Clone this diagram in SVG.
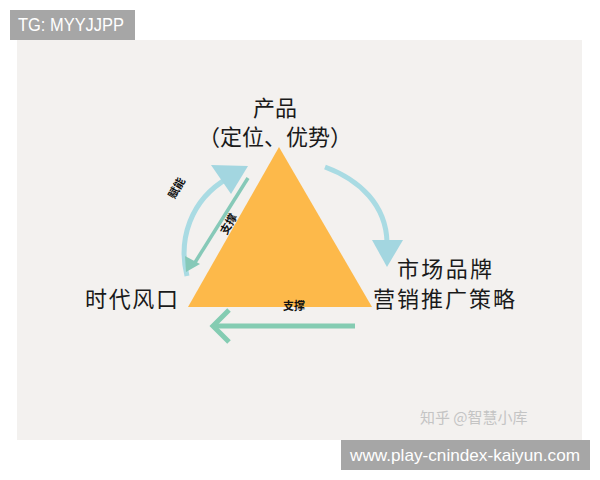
<svg xmlns="http://www.w3.org/2000/svg" width="600" height="480" viewBox="0 0 600 480">
<style>
.lbl{font-family:"Noto Sans CJK SC","Liberation Sans",sans-serif;font-size:22px;fill:#1a1a1a}
.cal{font-family:"Noto Sans CJK SC",serif;font-size:11px;font-weight:bold;fill:#111}
.wm{font-family:"Liberation Sans",Arial,sans-serif;fill:#fff}
</style>
<rect width="600" height="480" fill="#fff"/>
<rect x="17" y="40" width="565" height="400" fill="#f3f1ef"/>
<g id="watermark-top"><rect x="10" y="10" width="125" height="30" fill="#a6a6a6"/><text class="wm" x="18" y="31" font-size="17.5" textLength="106" lengthAdjust="spacingAndGlyphs">TG: MYYJJPP</text></g>
<g id="triangle"><polygon points="279,147 188,307 372,307" fill="#fdb94a"/></g>
<g id="connectors">
<path d="M187,276 C178,240 190,200 228,178" fill="none" stroke="#a9dbe3" stroke-width="5"/>
<polygon points="211,165 248,166 231,194" fill="#a3d6e0"/>
<line x1="248" y1="178" x2="194" y2="264" stroke="#86c9b8" stroke-width="3.5"/>
<polygon points="186,272 185,256 200,264" fill="#86c9b8"/>
<path d="M325,167 C360,180 386,205 387,242" fill="none" stroke="#a9dbe3" stroke-width="5"/>
<polygon points="372,240 403,240 387,267" fill="#a3d6e0"/>
<line x1="355" y1="326" x2="215" y2="326" stroke="#84ccb2" stroke-width="5"/>
<polyline points="229,310 213,326 229,342" fill="none" stroke="#84ccb2" stroke-width="5"/>
</g>
<text class="cal" transform="translate(180,190) rotate(-60)" text-anchor="middle">赋能</text>
<text class="cal" transform="translate(232,226) rotate(-60)" text-anchor="middle">支撑</text>
<text class="cal" x="294" y="310" text-anchor="middle">支撑</text>
<g id="n-product"><text class="lbl" x="275" y="116" text-anchor="middle">产品</text><text class="lbl" x="275" y="145" text-anchor="middle">（定位、优势）</text></g>
<g id="n-era"><text class="lbl" x="85" y="307" textLength="93">时代风口</text></g>
<g id="n-market"><text class="lbl" x="397" y="277" font-size="21" textLength="95">市场品牌</text><text class="lbl" x="373" y="307" font-size="21" textLength="142">营销推广策略</text></g>
<text x="420" y="423" font-family="Noto Sans CJK SC,sans-serif" font-size="15" fill="#c4c4c4">知乎 @智慧小库</text>
<g id="watermark-bottom"><rect x="341" y="440" width="249" height="30" fill="#a6a6a6"/><text class="wm" x="350" y="461" font-size="17" textLength="230" lengthAdjust="spacingAndGlyphs">www.play-cnindex-kaiyun.com</text></g>
</svg>
